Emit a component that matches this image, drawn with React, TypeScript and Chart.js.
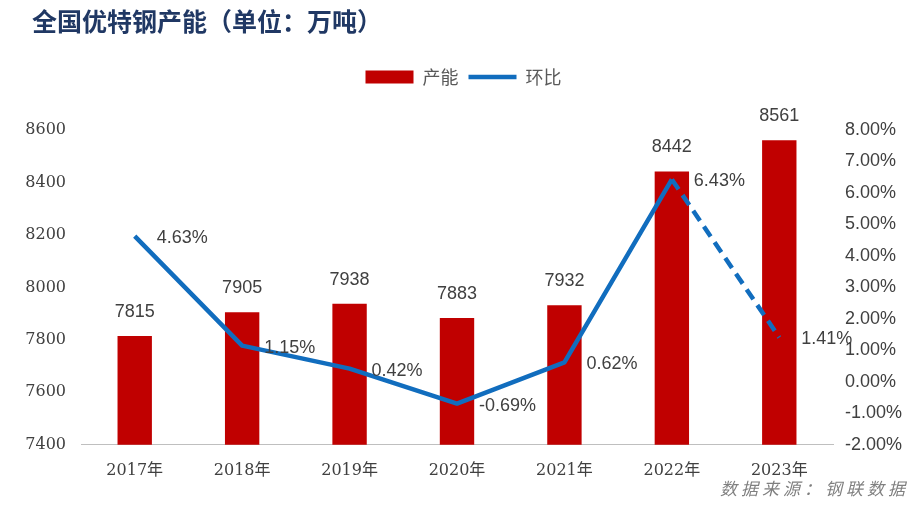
import { useEffect, useRef } from 'react';
import { Chart, registerables } from 'chart.js';

Chart.register(...registerables);

const years = ['2017年', '2018年', '2019年', '2020年', '2021年', '2022年', '2023年'];
const capacity = [7815, 7905, 7938, 7883, 7932, 8442, 8561];
const momChange = [4.63, 1.15, 0.42, -0.69, 0.62, 6.43, 1.41];
const leftTicks = [7400, 7600, 7800, 8000, 8200, 8400, 8600];
const rightTicks = [-2, -1, 0, 1, 2, 3, 4, 5, 6, 7, 8];

const TITLE = '全国优特钢产能（单位：万吨）';
const SOURCE = '数据来源：钢联数据';
const DASH_FROM = 5; // last segment drawn dashed

const BAR_RED = '#C00000';
const LINE_BLUE = '#116DBE';
const TEXT = '#404040';

// value labels + title + source note
const labelsPlugin = {
  id: 'labels',
  beforeInit(chart: any) {
    // extra room between legend and plot
    const fit = chart.legend.fit;
    chart.legend.fit = function () {
      fit.call(this);
      this.height += 34;
    };
  },
  afterDatasetsDraw(chart: any) {
    const { ctx } = chart;
    ctx.save();
    ctx.font = '18px "Liberation Sans"';
    ctx.fillStyle = TEXT;
    ctx.textBaseline = 'middle';

    ctx.textAlign = 'center';
    chart.getDatasetMeta(0).data.forEach((bar: any, i: number) => {
      ctx.fillText(String(capacity[i]), bar.x, bar.y - 24);
    });

    ctx.textAlign = 'left';
    chart.getDatasetMeta(1).data.forEach((pt: any, i: number) => {
      ctx.fillText(momChange[i].toFixed(2) + '%', pt.x + 22, pt.y + 2);
    });
    ctx.restore();
  },
  afterDraw(chart: any) {
    const { ctx } = chart;
    ctx.save();
    ctx.textBaseline = 'middle';
    ctx.textAlign = 'left';
    ctx.font = 'bold 25px "Noto Sans CJK SC"';
    ctx.fillStyle = '#203864';
    ctx.fillText(TITLE, 32, 21);

    ctx.font = 'italic 17px "Noto Sans CJK SC"';
    ctx.fillStyle = '#7F7F7F';
    ctx.textAlign = 'right';
    ctx.letterSpacing = '4px';
    ctx.fillText(SOURCE, chart.width, 489);
    ctx.restore();
  },
};

export default function App() {
  const chartRef = useRef<HTMLCanvasElement>(null);
  const chartInstance = useRef<Chart | null>(null);

  useEffect(() => {
    if (!chartRef.current) return;

    if (chartInstance.current) {
      chartInstance.current.destroy();
    }

    const ctx = chartRef.current.getContext('2d');
    if (!ctx) return;

    chartInstance.current = new Chart(ctx, {
      type: 'bar',
      data: {
        labels: years,
        datasets: [
          {
            type: 'bar',
            label: '产能',
            data: capacity,
            yAxisID: 'y',
            backgroundColor: BAR_RED,
            borderWidth: 0,
            barPercentage: 0.32,
            categoryPercentage: 1,
            pointStyle: 'rect',
            order: 1,
          },
          {
            type: 'line',
            label: '环比',
            data: momChange,
            yAxisID: 'y1',
            borderColor: LINE_BLUE,
            backgroundColor: LINE_BLUE,
            borderWidth: 4.5,
            borderJoinStyle: 'round',
            borderCapStyle: 'butt',
            pointRadius: 0,
            pointHoverRadius: 0,
            pointStyle: 'line',
            tension: 0,
            order: 0,
            segment: {
              borderDash: (c: any) => (c.p0DataIndex >= DASH_FROM ? [12, 7] : undefined),
            },
          },
        ],
      },
      options: {
        responsive: true,
        maintainAspectRatio: false,
        animation: false,
        layout: {
          padding: { top: 58, left: 25, right: 7, bottom: 10 },
        },
        plugins: {
          legend: {
            position: 'top',
            labels: {
              usePointStyle: true,
              pointStyleWidth: 48,
              boxHeight: 13,
              padding: 10,
              color: '#595959',
              font: { size: 18, family: '"Noto Sans CJK SC"' },
              sort: (a: any, b: any) => a.datasetIndex - b.datasetIndex,
            },
          },
          tooltip: { enabled: false },
        },
        scales: {
          x: {
            grid: { display: false, drawTicks: false },
            border: { display: true, color: '#BFBFBF', width: 1 },
            ticks: {
              color: TEXT,
              padding: 16,
              maxRotation: 0,
              font: { size: 16, family: '"DejaVu Serif", "Noto Sans CJK SC"' },
            },
          },
          y: {
            position: 'left',
            min: leftTicks[0],
            max: leftTicks[leftTicks.length - 1],
            grid: { display: false, drawTicks: false },
            border: { display: false },
            afterFit: (scale: any) => {
              scale.width = 56;
            },
            ticks: {
              stepSize: leftTicks[1] - leftTicks[0],
              color: TEXT,
              padding: 15,
              font: { size: 16, family: '"DejaVu Serif"' },
              callback: (value: any) => String(value),
            },
          },
          y1: {
            position: 'right',
            min: rightTicks[0],
            max: rightTicks[rightTicks.length - 1],
            grid: { display: false, drawTicks: false },
            border: { display: false },
            afterFit: (scale: any) => {
              scale.width = 69;
            },
            ticks: {
              stepSize: rightTicks[1] - rightTicks[0],
              color: TEXT,
              padding: 12,
              font: { size: 18, family: '"Liberation Sans"' },
              callback: (value: any) => Number(value).toFixed(2) + '%',
            },
          },
        },
      },
      plugins: [labelsPlugin],
    });

    return () => {
      if (chartInstance.current) {
        chartInstance.current.destroy();
        chartInstance.current = null;
      }
    };
  }, []);

  return (
    <div style={{ position: 'absolute', left: 0, top: 0, width: 909, height: 506, background: '#fff' }}>
      <canvas ref={chartRef} />
    </div>
  );
}
